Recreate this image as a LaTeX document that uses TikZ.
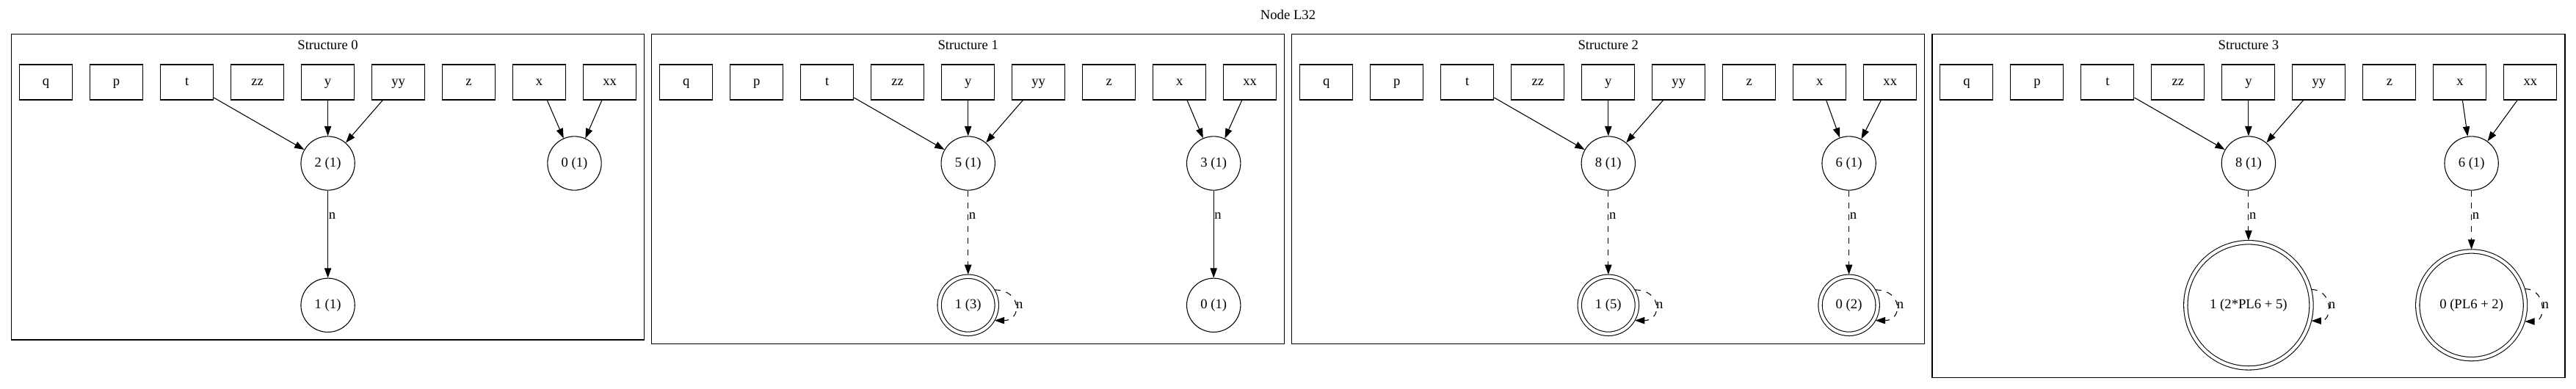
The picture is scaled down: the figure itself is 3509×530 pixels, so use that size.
\documentclass[tikz,border=0pt]{standalone}
\usepackage{fontspec}
\setmainfont{Liberation Serif}
\usetikzlibrary{arrows.meta}

\begin{document}
\begin{tikzpicture}[
		x=0.75pt, y=-0.75pt, line width=0.8pt,
		every node/.style={font=\fontsize{14}{16}\selectfont},
		var/.style={rectangle, draw, minimum width=54pt, minimum height=36pt, inner sep=0pt, text height=10pt, text depth=3pt},
		cell/.style={circle, draw, minimum size=55pt, inner sep=0pt, text height=10pt, text depth=3pt},
		acc/.style={cell, double, double distance=3.2pt, outer sep=2pt, minimum size=58.6pt},
		cluster/.style={draw, line width=1pt},
		head/.style={anchor=base},
		lbl/.style={anchor=west, inner sep=0.5pt},
		ptr/.style={-{Triangle[length=10pt, width=7pt]}},
		summ/.style={dash pattern=on 6pt off 6pt},
		selfloop/.style={ptr, summ, out=0, in=0, distance=28pt}
	]
  \useasboundingbox (0,0) rectangle (3509,530);
  \node (top) [head] at (1754.5,26.4) {Node L32};

  \draw[cluster] (15.6,46.7) rectangle (877.6,463.1);
  \node (h0) [head] at (446.6,67.6) {Structure 0};
  \node (q0) [var] at (62.6,112) {q};
  \node (p0) [var] at (158.6,112) {p};
  \node (t0) [var] at (254.6,112) {t};
  \node (zz0) [var] at (350.6,112) {zz};
  \node (y0) [var] at (446.6,112) {y};
  \node (yy0) [var] at (542.6,112) {yy};
  \node (z0) [var] at (638.6,112) {z};
  \node (x0) [var] at (734.6,112) {x};
  \node (xx0) [var] at (830.6,112) {xx};
  \node (c02) [cell] at (446.6,222.5) {2 (1)};
  \node (c00) [cell] at (782.5,222.5) {0 (1)};
  \node (c01) [cell] at (446.6,415.8) {1 (1)};
  \node (n0) [lbl] at (446.6,294) {n};
  \draw (t0) edge[ptr] (c02);
  \draw (y0) edge[ptr] (c02);
  \draw (yy0) edge[ptr] (c02);
  \draw (x0) edge[ptr] (c00);
  \draw (xx0) edge[ptr] (c00);
  \draw (c02) edge[ptr] (c01);

  \draw[cluster] (887.7,46.7) rectangle (1749.7,468.6);
  \node (h1) [head] at (1318.7,67.6) {Structure 1};
  \node (q1) [var] at (934.7,112) {q};
  \node (p1) [var] at (1030.7,112) {p};
  \node (t1) [var] at (1126.7,112) {t};
  \node (zz1) [var] at (1222.7,112) {zz};
  \node (y1) [var] at (1318.7,112) {y};
  \node (yy1) [var] at (1414.7,112) {yy};
  \node (z1) [var] at (1510.7,112) {z};
  \node (x1) [var] at (1606.7,112) {x};
  \node (xx1) [var] at (1702.7,112) {xx};
  \node (c15) [cell] at (1318.7,222.5) {5 (1)};
  \node (c13) [cell] at (1653.2,222.5) {3 (1)};
  \node (c11) [acc] at (1318.7,415.8) {1 (3)};
  \node (c10) [cell] at (1653.2,415.8) {0 (1)};
  \node (n1a) [lbl] at (1318.7,294) {n};
  \node (n1b) [lbl] at (1653.2,294) {n};
  \draw (t1) edge[ptr] (c15);
  \draw (y1) edge[ptr] (c15);
  \draw (yy1) edge[ptr] (c15);
  \draw (x1) edge[ptr] (c13);
  \draw (xx1) edge[ptr] (c13);
  \draw (c15) edge[ptr, summ] (c11);
  \draw (c13) edge[ptr] (c10);
  \draw (c11.30) edge[selfloop] node[lbl] {n} (c11.-30);

  \draw[cluster] (1759.8,46.7) rectangle (2621.8,468.6);
  \node (h2) [head] at (2190.8,67.6) {Structure 2};
  \node (q2) [var] at (1806.8,112) {q};
  \node (p2) [var] at (1902.8,112) {p};
  \node (t2) [var] at (1998.8,112) {t};
  \node (zz2) [var] at (2094.8,112) {zz};
  \node (y2) [var] at (2190.8,112) {y};
  \node (yy2) [var] at (2286.8,112) {yy};
  \node (z2) [var] at (2382.8,112) {z};
  \node (x2) [var] at (2478.8,112) {x};
  \node (xx2) [var] at (2574.8,112) {xx};
  \node (c28) [cell] at (2190.8,222.5) {8 (1)};
  \node (c26) [cell] at (2518.6,222.5) {6 (1)};
  \node (c21) [acc] at (2190.8,415.8) {1 (5)};
  \node (c20) [acc] at (2518.6,415.8) {0 (2)};
  \node (n2a) [lbl] at (2190.8,294) {n};
  \node (n2b) [lbl] at (2518.6,294) {n};
  \draw (t2) edge[ptr] (c28);
  \draw (y2) edge[ptr] (c28);
  \draw (yy2) edge[ptr] (c28);
  \draw (x2) edge[ptr] (c26);
  \draw (xx2) edge[ptr] (c26);
  \draw (c28) edge[ptr, summ] (c21);
  \draw (c26) edge[ptr, summ] (c20);
  \draw (c21.30) edge[selfloop] node[lbl] {n} (c21.-30);
  \draw (c20.30) edge[selfloop] node[lbl] {n} (c20.-30);

  \draw[cluster] (2631.9,46.7) rectangle (3493.9,514.5);
  \node (h3) [head] at (3062.9,67.6) {Structure 3};
  \node (q3) [var] at (2678.9,112) {q};
  \node (p3) [var] at (2774.9,112) {p};
  \node (t3) [var] at (2870.9,112) {t};
  \node (zz3) [var] at (2966.9,112) {zz};
  \node (y3) [var] at (3062.9,112) {y};
  \node (yy3) [var] at (3158.9,112) {yy};
  \node (z3) [var] at (3254.9,112) {z};
  \node (x3) [var] at (3350.9,112) {x};
  \node (xx3) [var] at (3446.9,112) {xx};
  \node (c38) [cell] at (3062.9,222.5) {8 (1)};
  \node (c36) [cell] at (3366.6,222.5) {6 (1)};
  \node (c31) [acc, minimum size=128.4pt] at (3062.9,415.8) {1 (2*PL6 + 5)};
  \node (c30) [acc, minimum size=110pt] at (3366.6,415.8) {0 (PL6 + 2)};
  \node (n3a) [lbl] at (3062.9,294) {n};
  \node (n3b) [lbl] at (3366.6,294) {n};
  \draw (t3) edge[ptr] (c38);
  \draw (y3) edge[ptr] (c38);
  \draw (yy3) edge[ptr] (c38);
  \draw (x3) edge[ptr] (c36);
  \draw (xx3) edge[ptr] (c36);
  \draw (c38) edge[ptr, summ] (c31);
  \draw (c36) edge[ptr, summ] (c30);
  \draw (c31.14) edge[selfloop, distance=22pt] node[lbl] {n} (c31.-14);
  \draw (c30.17) edge[selfloop, distance=22pt] node[lbl] {n} (c30.-17);
\end{tikzpicture}
\end{document}
